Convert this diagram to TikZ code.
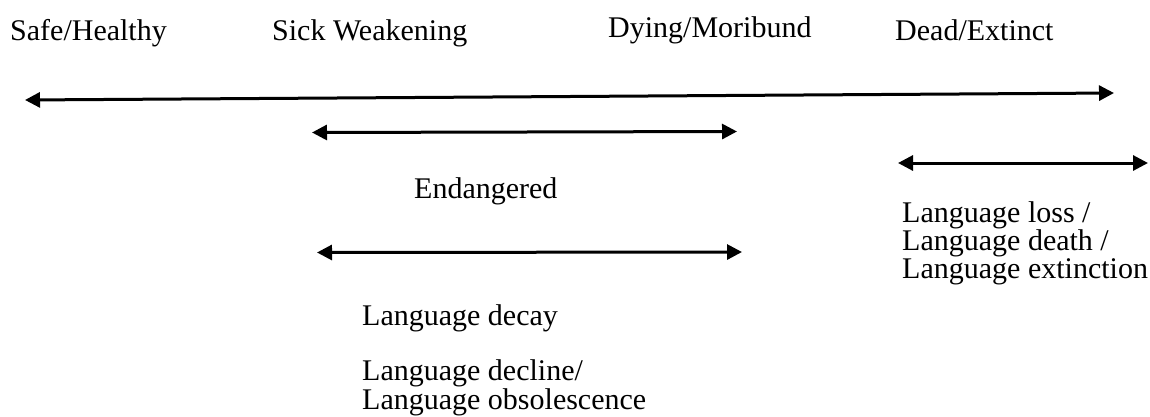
\documentclass[tikz,border=0pt]{standalone}
\usepackage{fontspec}
\setmainfont{Liberation Serif}
\usetikzlibrary{arrows.meta}
\begin{document}
\begin{tikzpicture}[x=1pt,y=-1pt,
  lbl/.style={anchor=base west,inner sep=0pt,font=\fontsize{30}{30}\selectfont},
  rng/.style={line width=3pt,{Triangle[length=15pt,width=15pt]}-{Triangle[length=15pt,width=15pt]}}]
\useasboundingbox (0,0) rectangle (1150,416);
\fill[white] (0,0) rectangle (1150,416);
% stage labels
\node[lbl] (safe) at (10,40) {Safe/Healthy};
\node[lbl] (sick) at (272,40) {Sick Weakening};
\node[lbl] (dying) at (608,37) {Dying/Moribund};
\node[lbl] (dead) at (895,40) {Dead/Extinct};
% range end points
\coordinate (a1) at (25,100);
\coordinate (a2) at (1114,93);
\coordinate (b1) at (312,132.5);
\coordinate (b2) at (737,131.5);
\coordinate (c1) at (898,163);
\coordinate (c2) at (1148,163);
\coordinate (d1) at (317,252.5);
\coordinate (d2) at (742,252);
\draw[rng] (a1) -- (a2);
\draw[rng] (b1) -- (b2);
\draw[rng] (c1) -- (c2);
\draw[rng] (d1) -- (d2);
% range labels
\node[lbl] (endang) at (414,198) {Endangered};
\node[lbl] (loss) at (902,222) {Language loss /};
\node[lbl] (death) at (902,250) {Language death /};
\node[lbl] (extinct) at (902,278) {Language extinction};
\node[lbl] (decay) at (362,325) {Language decay};
\node[lbl] (decline) at (362,380) {Language decline/};
\node[lbl] (obsol) at (362,409) {Language obsolescence};
\end{tikzpicture}
\end{document}
